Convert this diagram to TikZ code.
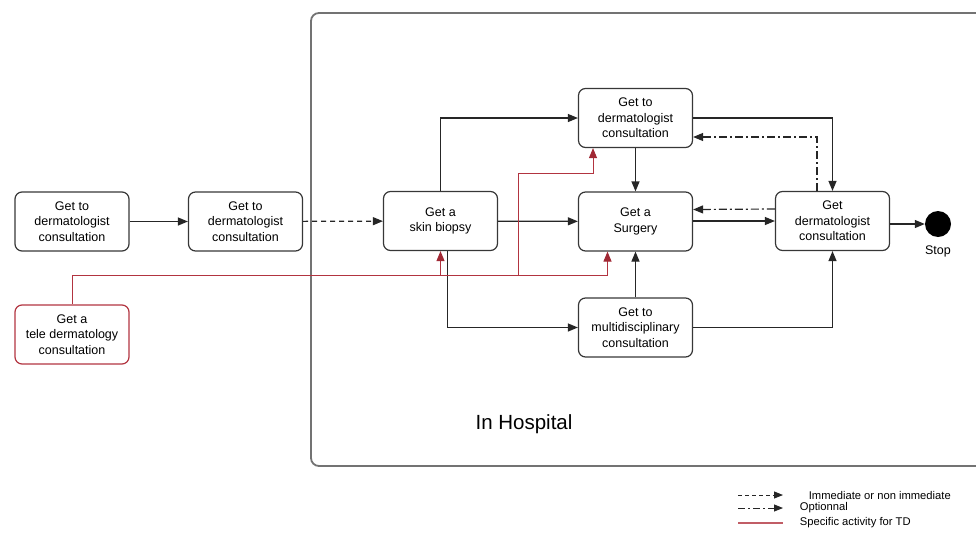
\documentclass[tikz,border=0pt]{standalone}
\usepackage{fontspec}
\setmainfont{Liberation Sans}
\usetikzlibrary{arrows.meta}
\definecolor{tdred}{RGB}{178,52,64}
\definecolor{tdhead}{RGB}{160,40,52}
\definecolor{boxline}{RGB}{55,55,55}
\begin{document}
\begin{tikzpicture}[x=1pt,y=-1pt,
		activity/.style={draw=boxline,line width=1.2pt,rounded corners=7pt,minimum width=114pt,minimum height=59pt,inner sep=0pt,align=center,font=\fontsize{12.5}{15.5}\selectfont},
		flow/.style={line width=1.2pt,draw=black!85,-{Triangle[length=10pt,width=8pt]}},
		optional/.style={flow,dash pattern=on 8pt off 3pt on 2pt off 3pt},
		tdline/.style={line width=1pt,draw=tdred,-{Triangle[length=10pt,width=8pt,color=tdhead]}},
		legtext/.style={anchor=west,font=\fontsize{11.2}{13}\selectfont}]
		\useasboundingbox (0,0) rectangle (976,546);
		
		% Hospital frame
		\draw[line width=1.8pt,draw=black!55,rounded corners=8pt] (311,13) rectangle (990,466);
		\node (hospital) at (524,424) {\fontsize{20.5}{24}\selectfont In Hospital};
		
		% Before hospital
		\node[activity] (consultA) at (72,221.5) {Get to\\dermatologist\\consultation};
		\node[activity] (consultB) at (245.5,221.5) {Get to\\dermatologist\\consultation};
		\node[activity,draw=tdred] (tele) at (72,334.5) {Get a\\tele dermatology\\consultation};
		
		% In hospital
		\node[activity] (biopsy) at (440.5,221) {Get a\\skin biopsy};
		\node[activity] (dermtop) at (635.5,118) {Get to\\dermatologist\\consultation};
		\node[activity] (surgery) at (635.5,221.5) {Get a\\Surgery};
		\node[activity] (multi) at (635.5,327.5) {Get to\\multidisciplinary\\consultation};
		\node[activity] (dermend) at (832.5,221) {Get\\dermatologist\\consultation};
		
		% Stop
		\node[circle,fill=black,minimum size=26pt,inner sep=0pt] (stop) at (938,224) {};
		\node[anchor=north,font=\fontsize{12.5}{15}\selectfont] (stoplabel) at ([yshift=-5pt]stop.south) {Stop};
		
		% Main path
		\draw[flow] (consultA) -- (consultB);
		\draw[flow,dash pattern=on 5pt off 4pt] (consultB) -- (biopsy);
		\draw[flow] (biopsy.north) |- (dermtop.west);
		\draw[flow] (biopsy) -- (surgery);
		\draw[flow] ([xshift=7pt]biopsy.south) |- (multi.west);
		\draw[flow] (dermtop) -- (surgery);
		\draw[flow] (multi) -- (surgery);
		\draw[flow] (surgery.east |- dermend.west) -- (dermend.west);
		\draw[flow] (dermtop.east) -| (dermend.north);
		\draw[flow] (multi.east) -| (dermend.south);
		\draw[flow] (dermend.east |- stop.west) -- (stop.west);
		
		% Optional returns
		\draw[optional] ([yshift=12pt]dermend.west) -- ([yshift=12pt]surgery.east);
		\draw[optional] ([xshift=-15.5pt]dermend.north) |- ([yshift=-19pt]dermtop.east);
		
		% Tele dermatology paths
		\coordinate (tdend) at (607.5,275.5);
		\coordinate (tdsplit) at (518,275.5);
		\coordinate (tdknee) at (593,173);
		\draw[tdline] (tele.north) |- (tdend) -- (tdend |- surgery.south);
		\draw[tdline] (biopsy.south |- tdend) -- (biopsy.south);
		\draw[tdline] (tdsplit) |- (tdknee) -- (tdknee |- dermtop.south);
		
		% Legend
		\coordinate (legA) at (738,495);
		\coordinate (legB) at (738,508);
		\coordinate (legC) at (738,523);
		\draw[flow,line width=1pt,dash pattern=on 4pt off 3pt,-{Triangle[length=9pt,width=7pt]}] (legA) -- ++(45,0) node[legtext,xshift=22pt] (legtextA) {Immediate or non immediate};
		\draw[flow,line width=1pt,dash pattern=on 7pt off 3pt on 2pt off 3pt,-{Triangle[length=9pt,width=7pt]}] (legB) -- ++(45,0) node[legtext,xshift=13pt] (legtextB) {Optionnal};
		\draw[line width=1.1pt,draw=tdred!80] (legC) -- ++(45,0) node[legtext,xshift=13pt] (legtextC) {Specific activity for TD};
	\end{tikzpicture}
\end{document}
